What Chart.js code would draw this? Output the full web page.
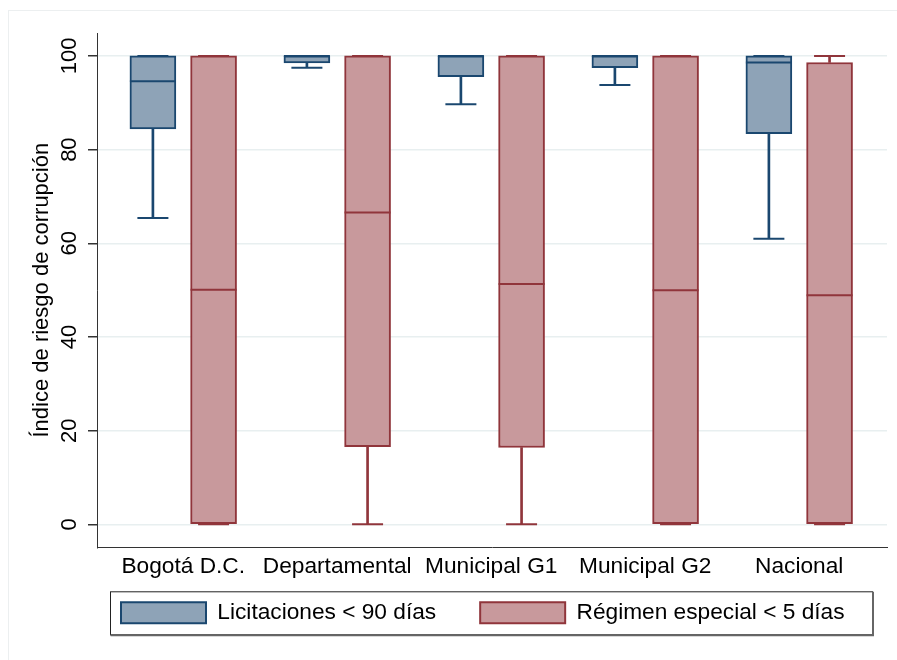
<!DOCTYPE html>
<html>
<head>
<meta charset="utf-8">
<script src="https://cdn.jsdelivr.net/npm/chart.js@4.4.1/dist/chart.umd.min.js"></script>
<style>
html,body{margin:0;padding:0;background:#fff;}
#wrap{width:897px;height:660px;position:relative;}
</style>
</head>
<body>
<div id="wrap"><canvas id="c" width="897" height="660"></canvas></div>
<script>
// ---- data ----
const categories = ['Bogotá D.C.', 'Departamental', 'Municipal G1', 'Municipal G2', 'Nacional'];
const seriesNames = ['Licitaciones < 90 días', 'Régimen especial < 5 días'];

const licMin    = [65.4, 97.5, 89.7, 93.8, 61.0];
const licQ1     = [84.4, 98.5, 95.6, 97.5, 83.4];
const licMedian = [94.6, 100, 100, 100, 98.6];
const licQ3     = [100, 100, 100, 100, 100];
const licMax    = [100, 100, 100, 100, 100];

const regMin    = [0, 0, 0, 0, 0];
const regQ1     = [0, 16.6, 16.4, 0, 0];
const regMedian = [50.1, 66.6, 51.3, 50.0, 48.9];
const regQ3     = [100, 100, 100, 100, 98.6];
const regMax    = [100, 100, 100, 100, 100];

const yTicks = [0, 20, 40, 60, 80, 100];
const yTitle = 'Índice de riesgo de corrupción';

// ---- styling ----
const BLUE_LINE = '#1a476f', BLUE_FILL = '#8ea3b7';
const RED_LINE = '#90353b', RED_FILL = '#c8999c';
const LABEL_SIZE = 22.7;

Chart.defaults.font.family = "'Liberation Sans', Arial, Helvetica, sans-serif";
Chart.defaults.font.size = 22;
Chart.defaults.color = '#000';

function boxDatasets(name, offset, mins, q1s, meds, q3s, maxs, line, fill) {
  const xs = categories.map((_, i) => i + offset);
  return [
    { type: 'bar', label: name, isBox: true,
      data: xs.map((x, i) => ({ x, y: [q1s[i], q3s[i]] })),
      backgroundColor: fill, borderColor: line, borderWidth: 2, borderSkipped: false,
      barThickness: 46, grouped: false, order: 2 },
    { type: 'bar', label: name + ' (bigotes)',
      data: xs.flatMap((x, i) => [{ x, y: [q3s[i], maxs[i]] }, { x, y: [mins[i], q1s[i]] }]),
      backgroundColor: line, borderWidth: 0, barThickness: 2, grouped: false, order: 3 },
    { type: 'scatter', label: name + ' (mediana)',
      data: xs.map((x, i) => ({ x, y: meds[i] })),
      pointStyle: 'line', pointRadius: 23, borderColor: line, borderWidth: 2, order: 1 },
    { type: 'scatter', label: name + ' (extremos)',
      data: xs.flatMap((x, i) => [{ x, y: mins[i] }, { x, y: maxs[i] }]),
      pointStyle: 'line', pointRadius: 15.5, borderColor: line, borderWidth: 2, order: 1 }
  ];
}

const datasets = [
  ...boxDatasets(seriesNames[0], -0.197, licMin, licQ1, licMedian, licQ3, licMax, BLUE_LINE, BLUE_FILL),
  ...boxDatasets(seriesNames[1], 0.197, regMin, regQ1, regMedian, regQ3, regMax, RED_LINE, RED_FILL)
];

// legend frame geometry relative to the plot area
const FRAME_INSET_L = 13, FRAME_INSET_R = 15, FRAME_TOP_GAP = 44, FRAME_H = 43;

const framePlugin = {
  id: 'frames',
  afterLayout(chart) {
    const lg = chart.legend;
    if (!lg) return;
    const ca = chart.chartArea;
    const pad = lg.options.labels.padding;
    const h = lg.height;
    // place legend items inside the frame drawn below the axis labels
    const frameTop = ca.bottom + FRAME_TOP_GAP;
    lg.top = frameTop + 10 - pad;
    lg.bottom = lg.top + h;
    lg.left = ca.left + FRAME_INSET_L + 11 - pad;
    lg.right = chart.width;
  },
  beforeDraw(chart) {
    const ctx = chart.ctx;
    ctx.save();
    ctx.fillStyle = '#fff';
    ctx.fillRect(0, 0, chart.width, chart.height);
    ctx.strokeStyle = '#eceff0';
    ctx.lineWidth = 1;
    ctx.strokeRect(8.5, 10.5, chart.width + 10, chart.height + 10);
    ctx.restore();
  },
  afterDraw(chart) {
    const ca = chart.chartArea;
    const ctx = chart.ctx;
    const left = ca.left + FRAME_INSET_L + 0.5, right = ca.right - FRAME_INSET_R + 0.5;
    const top = ca.bottom + FRAME_TOP_GAP + 0.5;
    const bottom = top + FRAME_H;
    ctx.save();
    ctx.strokeStyle = '#222';
    ctx.lineWidth = 1;
    ctx.strokeRect(left, top, right - left, bottom - top);
    ctx.strokeStyle = '#666';
    ctx.lineWidth = 2;
    ctx.beginPath();
    ctx.moveTo(left, bottom + 0.5); ctx.lineTo(right + 0.5, bottom + 0.5); ctx.lineTo(right + 0.5, top);
    ctx.stroke();
    ctx.restore();
  }
};

new Chart(document.getElementById('c'), {
  type: 'bar',
  data: { datasets },
  plugins: [framePlugin],
  options: {
    responsive: false,
    animation: false,
    devicePixelRatio: 1,
    layout: { autoPadding: false, padding: { top: 33, right: 10, left: 0, bottom: 0 } },
    plugins: {
      tooltip: { enabled: false },
      legend: {
        position: 'bottom',
        align: 'start',
        fullSize: true,
        labels: {
          filter: (item, data) => data.datasets[item.datasetIndex].isBox === true,
          sort: (a, b) => a.datasetIndex - b.datasetIndex,
          boxWidth: 85, boxHeight: 21, padding: 44,
          font: { size: LABEL_SIZE }, color: '#000'
        }
      }
    },
    scales: {
      x: {
        type: 'linear', min: -0.56, max: 4.57, offset: false,
        afterBuildTicks: s => { s.ticks = categories.map((_, i) => ({ value: i })); },
        ticks: { callback: v => categories[v] ?? '', autoSkip: false, maxRotation: 0, minRotation: 0, padding: 6, font: { size: LABEL_SIZE }, color: '#000' },
        grid: { display: false, drawTicks: false, offset: false },
        border: { display: true, color: '#333', width: 1 },
        afterFit: s => { s.height = 36; s.paddingLeft = 0; s.paddingRight = 0; }
      },
      y: {
        min: -4.9, max: 104.9,
        afterBuildTicks: s => { s.ticks = yTicks.map(v => ({ value: v })); },
        ticks: { minRotation: 90, maxRotation: 90, crossAlign: 'center', padding: 0, font: { size: 22 }, color: '#000' },
        grid: { color: '#e8eff0', lineWidth: 1.5, tickColor: '#333', tickLength: 9, drawTicks: true },
        border: { display: true, color: '#333', width: 1 },
        title: { display: true, text: yTitle, font: { size: 22 }, color: '#000', padding: { top: 29, bottom: 0 } },
        afterFit: s => { s.width = 97; s.paddingTop = 0; s.paddingBottom = 0; }
      }
    }
  }
});
</script>
</body>
</html>
